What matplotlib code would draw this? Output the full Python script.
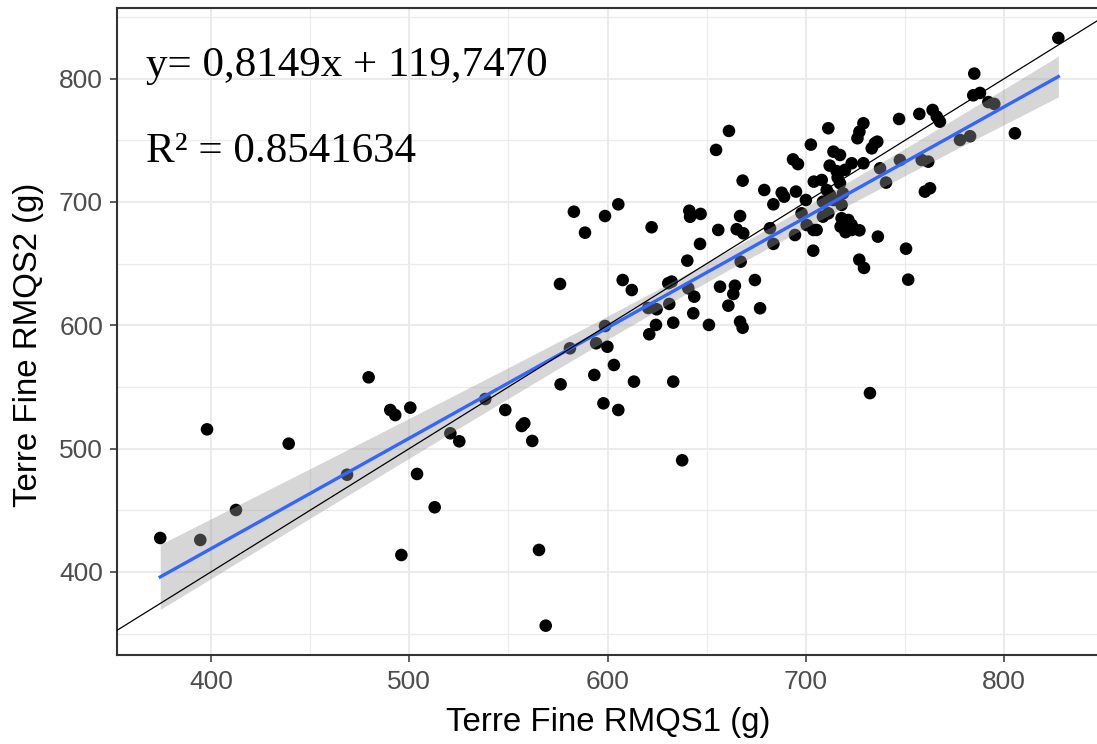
import numpy as np
import matplotlib
matplotlib.use("Agg")
import matplotlib.pyplot as plt
from matplotlib import font_manager
from matplotlib.ticker import MultipleLocator

# ---- data (Terre Fine RMQS1 vs RMQS2, g) ----
rmqs1 = [374.4, 394.6, 398.0, 412.6, 439.2, 479.5, 468.6, 490.4, 492.9, 500.5,
         503.9, 512.8, 496.0, 520.7, 525.2, 538.3, 548.4, 556.7, 558.0, 562.0,
         565.4, 568.8, 576.3, 581.0, 593.3, 597.9, 605.4, 594.2, 599.9, 603.2,
         598.7, 613.3, 633.1, 637.6, 621.0, 624.4, 633.1, 643.2, 651.1, 666.8,
         668.1, 676.9, 660.9, 631.1, 620.5, 624.7, 622.2, 655.8, 665.1, 668.4,
         646.6, 640.2, 683.6, 694.5, 667.1, 607.6, 612.2, 630.6, 632.3, 640.7,
         643.7, 656.7, 664.2, 663.4, 674.3, 583.0, 588.6, 598.7, 605.4, 576.0,
         661.2, 654.7, 668.1, 679.0, 687.8, 689.0, 683.6, 641.2, 641.6, 646.9,
         666.8, 693.5, 696.0, 695.0, 700.0, 702.5, 711.3, 713.9, 717.2, 712.0,
         715.5, 716.0, 717.2, 719.7, 723.1, 729.0, 704.0, 708.0, 710.5, 712.2,
         718.0, 708.6, 713.9, 697.8, 708.6, 711.3, 718.0, 721.4, 723.1, 727.0,
         723.1, 700.4, 703.8, 705.4, 681.9, 717.5, 720.0, 736.3, 703.7, 750.5,
         751.6, 726.9, 729.3, 732.3, 727.0, 729.0, 726.0, 747.0, 757.2, 763.9,
         766.0, 767.6, 734.8, 736.0, 733.2, 737.4, 740.4, 747.4, 758.4, 761.7,
         760.0, 762.6, 777.7, 782.8, 827.3, 784.9, 784.4, 787.8, 792.0, 795.0,
         805.4, 718.7]
rmqs2 = [427.5, 425.9, 515.6, 450.2, 504.0, 557.8, 478.8, 531.3, 527.2, 533.2,
         479.4, 452.4, 413.7, 512.4, 505.9, 540.2, 531.3, 518.3, 520.5, 506.2,
         417.8, 356.4, 552.1, 581.3, 559.7, 536.7, 531.3, 585.4, 582.6, 567.8,
         599.4, 554.3, 554.3, 490.5, 592.7, 600.3, 602.1, 609.7, 600.3, 602.9,
         598.0, 613.8, 615.9, 617.3, 614.0, 613.0, 679.5, 677.3, 677.9, 674.6,
         666.0, 652.4, 666.0, 673.2, 651.6, 636.7, 628.6, 634.1, 635.4, 630.0,
         623.2, 631.3, 632.1, 625.4, 636.7, 692.1, 675.1, 688.6, 698.1, 633.5,
         757.6, 742.2, 717.3, 709.7, 707.5, 704.3, 698.1, 692.9, 688.0, 690.3,
         688.6, 734.5, 730.7, 708.4, 701.6, 746.5, 759.8, 740.8, 738.1, 729.5,
         725.0, 719.8, 715.2, 726.0, 731.4, 731.4, 716.5, 717.8, 709.7, 705.7,
         697.6, 700.2, 701.6, 690.8, 688.1, 690.8, 686.8, 685.4, 681.3, 677.0,
         677.3, 681.3, 677.3, 677.3, 678.7, 680.0, 675.5, 671.9, 660.5, 662.1,
         637.0, 653.2, 646.5, 545.0, 757.0, 763.8, 751.7, 767.3, 771.4, 774.6,
         769.2, 765.1, 747.6, 748.9, 743.5, 727.3, 715.7, 734.0, 734.0, 732.7,
         708.4, 711.1, 750.3, 753.3, 833.0, 804.1, 786.5, 788.4, 781.0, 779.5,
         755.7, 707.0]

x_ticks = [400, 500, 600, 700, 800]
y_ticks = [400, 500, 600, 700, 800]
x_title = "Terre Fine RMQS1 (g)"
y_title = "Terre Fine RMQS2 (g)"
eq_text = "y= 0,8149x + 119,7470"
r2_text = "R² = 0.8541634"

# ---- fonts ----
available = {f.name for f in font_manager.fontManager.ttflist}
sans = "Liberation Sans Narrow" if "Liberation Sans Narrow" in available else "Liberation Sans"
narrow = sans == "Liberation Sans Narrow"
tick_size = 23 if narrow else 19
title_size = 28 if narrow else 23.8

W, H = 1097, 744
fig = plt.figure(figsize=(W / 100, H / 100), dpi=100)
ax = fig.add_axes([117 / W, (H - 655) / H, 980 / W, 647 / H])

x = np.array(rmqs1)
y = np.array(rmqs2)

# linear fit + 95% confidence band
slope, intercept = np.polyfit(x, y, 1)
xs = np.linspace(x.min(), x.max(), 100)
ys = slope * xs + intercept
n = len(x)
resid = y - (slope * x + intercept)
s = np.sqrt(np.sum(resid ** 2) / (n - 2))
sxx = np.sum((x - x.mean()) ** 2)
se = s * np.sqrt(1.0 / n + (xs - x.mean()) ** 2 / sxx)
tval = 1.976

ax.scatter(x, y, s=82, color="black", edgecolors="none", zorder=3)
ax.fill_between(xs, ys - tval * se, ys + tval * se, color="#999999", alpha=0.4,
                linewidth=0, zorder=4)
ax.plot(xs, ys, color="#3366FF", lw=2.4, zorder=5)
ax.axline((400, 400), slope=1, color="black", lw=0.9, zorder=6)

ax.set_xlim(352.6, 846.8)
ax.set_ylim(332.6, 857.3)

ax.xaxis.set_minor_locator(MultipleLocator(50))
ax.yaxis.set_minor_locator(MultipleLocator(50))
ax.set_xticks(x_ticks)
ax.set_yticks(y_ticks)
ax.set_xticklabels([str(v) for v in x_ticks])
ax.set_yticklabels([str(v) for v in y_ticks])
ax.grid(which="major", color="#EBEBEB", lw=1.5, zorder=0)
ax.grid(which="minor", color="#EBEBEB", lw=0.9, zorder=0)
ax.set_axisbelow(True)
ax.tick_params(which="minor", length=0)
ax.tick_params(which="major", length=5, width=1.1, color="#333333",
               labelcolor="#4D4D4D", labelsize=tick_size)
ax.tick_params(axis="x", pad=6)
ax.tick_params(axis="y", pad=5)
for lab in ax.get_xticklabels() + ax.get_yticklabels():
    lab.set_family([sans, "DejaVu Sans"])

for side in ["left", "bottom", "top"]:
    ax.spines[side].set_color("#333333")
    ax.spines[side].set_linewidth(1.5)
ax.spines["right"].set_visible(False)

ax.text(367.3, 802.2, eq_text, family=["Liberation Serif", "DejaVu Serif"],
        fontsize=31, va="baseline", ha="left", zorder=7)
ax.text(367.3, 732.4, r2_text, family=["Liberation Serif", "DejaVu Serif"],
        fontsize=31, va="baseline", ha="left", zorder=7)

fig.text(608 / W, (H - 722) / H, x_title, family=[sans, "DejaVu Sans"],
         fontsize=title_size, ha="center", va="center")
fig.text(29 / W, (H - 345) / H, y_title, family=[sans, "DejaVu Sans"],
         fontsize=title_size, ha="center", va="center", rotation=90)

fig.savefig("out.png", dpi=100)
